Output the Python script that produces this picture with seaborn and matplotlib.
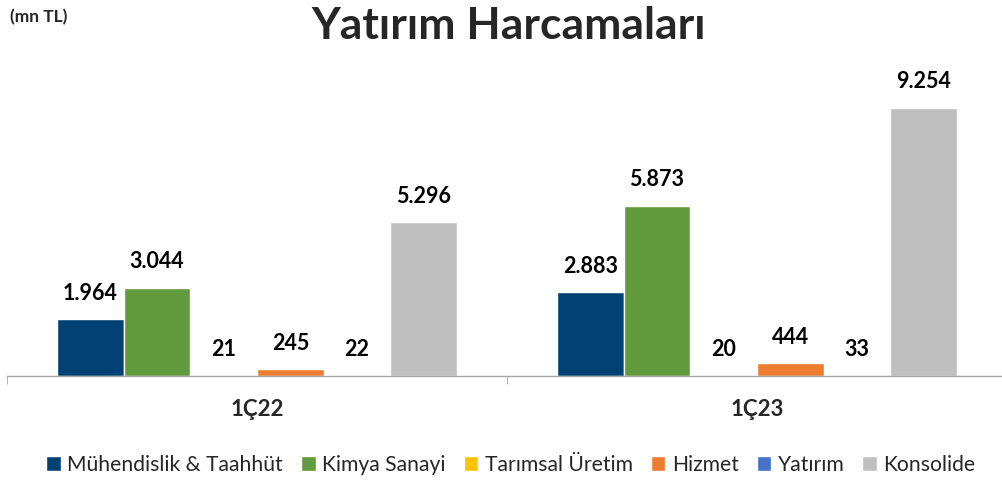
import pandas as pd
import matplotlib
matplotlib.use("Agg")
import matplotlib.pyplot as plt
from matplotlib.transforms import offset_copy
import seaborn as sns

# data (mn TL)
periods = ["1Ç22", "1Ç23"]
segments = ["Mühendislik & Taahhüt", "Kimya Sanayi", "Tarımsal Üretim",
            "Hizmet", "Yatırım", "Konsolide"]
values_1c22 = [1964, 3044, 21, 245, 22, 5296]
values_1c23 = [2883, 5873, 20, 444, 33, 9254]
colors = ["#024173", "#629A3E", "#FFC000", "#ED7D31", "#4472C4", "#BFBFBF"]

rows = []
for period, vals in zip(periods, [values_1c22, values_1c23]):
    for seg, v in zip(segments, vals):
        rows.append({"period": period, "segment": seg, "value": v})
df = pd.DataFrame(rows)

sns.set_style("white")
plt.rcParams["font.family"] = ["Lato", "DejaVu Sans"]

fig = plt.figure(figsize=(10.02, 4.8), dpi=100)
ax = fig.add_axes([7 / 1002, 104 / 480, 1000 / 1002, 316 / 480])

sns.barplot(data=df, x="period", y="value", hue="segment", order=periods,
            hue_order=segments, palette=colors, width=0.8, saturation=1,
            ax=ax, legend=True)

def tr_fmt(v):
    return f"{int(v):,}".replace(",", ".")

for cont in ax.containers:
    labels = [tr_fmt(b.get_height()) for b in cont]
    ax.bar_label(cont, labels=labels, padding=11, fontsize=15.5,
                 fontweight="bold", color="#000000")

ax.set_xlim(-0.5, 1.5)
ax.set_ylim(0, 10900)
ax.set_xlabel("")
ax.set_ylabel("")
ax.set_yticks([])
for side in ["top", "left", "right"]:
    ax.spines[side].set_visible(False)
ax.spines["bottom"].set_color("#A6A6A6")
ax.spines["bottom"].set_linewidth(1)

# category boundary ticks like the Excel axis
ax.set_xticks([0, 1], ["", ""])
ax.set_xticks([-0.5, 0.5, 1.5], minor=True)
ax.tick_params(axis="x", which="minor", length=6, color="#A6A6A6",
               direction="out", bottom=True)
ax.tick_params(axis="x", which="major", length=0)

# bold category labels under each group
lab_tr = offset_copy(ax.get_xaxis_transform(), fig=fig, y=-34, units="dots")
for i, p in enumerate(periods):
    ax.text(i, 0, p, transform=lab_tr, ha="center", va="center",
            fontsize=16, fontweight="bold")

handles, labs = ax.get_legend_handles_labels()
ax.get_legend().remove()
fig.legend(handles, labs, loc="center", bbox_to_anchor=(0.51, 0.032),
           ncol=6, frameon=False, fontsize=15.2, handlelength=0.7,
           handleheight=0.7, handletextpad=0.3, columnspacing=0.85)

fig.text(0.508, 0.945, "Yatırım Harcamaları", ha="center", va="center",
         fontsize=32, fontweight="bold")
fig.text(0.01, 0.965, "(mn TL)", ha="left", va="center",
         fontsize=12.5, fontweight="bold")

fig.savefig("out.png", dpi=100)
